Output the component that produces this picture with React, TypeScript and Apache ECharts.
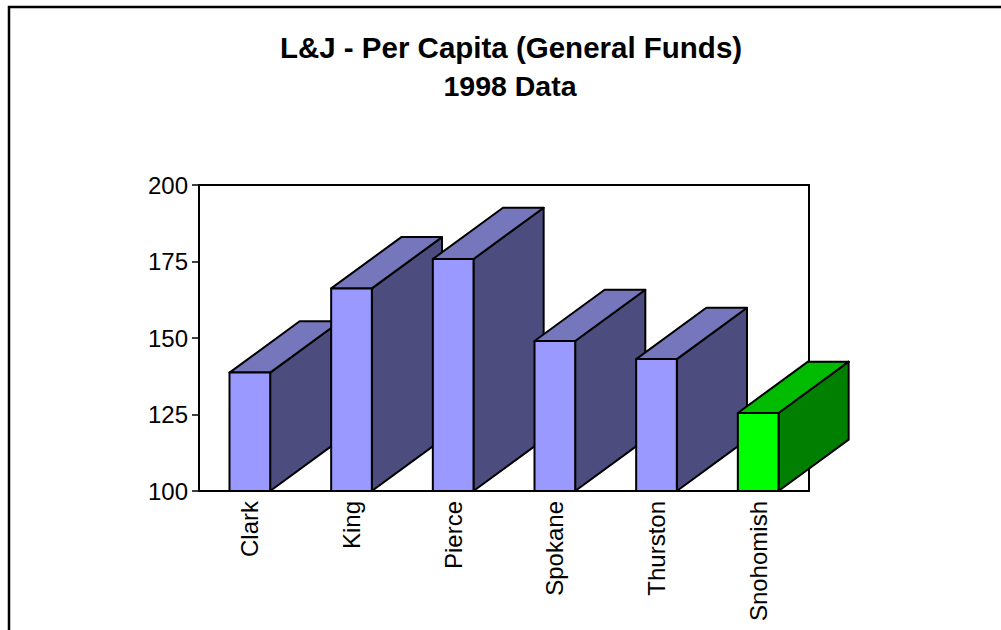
import React, { useEffect, useRef } from "react";
import * as echarts from "echarts";

const titleLine1 = "L&J - Per Capita (General Funds)";
const titleLine2 = "1998 Data";
const categories = ["Clark", "King", "Pierce", "Spokane", "Thurston", "Snohomish"];
const values = [138.7, 166.2, 175.8, 149.0, 143.1, 125.5];
const highlighted = "Snohomish";
const yMin = 100;
const yMax = 200;
const yStep = 25;

const FONT = '"Liberation Sans", Arial, Helvetica, sans-serif';

const blueFaces = { front: "#9999FF", top: "#7676BC", side: "#4C4C7E" };
const greenFaces = { front: "#00FF00", top: "#00BB00", side: "#007F00" };

export default function App() {
  const ref = useRef<HTMLDivElement>(null);

  useEffect(() => {
    if (!ref.current) return;
    const chart = echarts.init(ref.current, null, { renderer: "svg" });

    const renderItem = (params: any, api: any) => {
      const idx = api.value(0);
      const val = api.value(1);
      const top = api.coord([idx, val]);
      const base = api.coord([idx, yMin]);
      const band = api.size([1, 0])[0];
      const w = band * 0.4;
      const dx = band * 0.69;
      const dy = band * 0.505;
      const x1 = top[0] - w / 2;
      const x2 = top[0] + w / 2;
      const yT = top[1];
      const yB = base[1];
      const faces = categories[params.dataIndex] === highlighted ? greenFaces : blueFaces;
      const stroke = { stroke: "#000", lineWidth: 2, lineJoin: "round" };
      return {
        type: "group",
        children: [
          {
            type: "polygon",
            shape: { points: [[x2, yT], [x2 + dx, yT - dy], [x2 + dx, yB - dy], [x2, yB]] },
            style: { fill: faces.side, ...stroke },
          },
          {
            type: "polygon",
            shape: { points: [[x1, yT], [x2, yT], [x2 + dx, yT - dy], [x1 + dx, yT - dy]] },
            style: { fill: faces.top, ...stroke },
          },
          {
            type: "rect",
            shape: { x: x1, y: yT, width: w, height: yB - yT },
            style: { fill: faces.front, ...stroke },
          },
        ],
      };
    };

    chart.setOption({
      animation: false,
      backgroundColor: "#ffffff",
      graphic: [
        {
          type: "rect",
          silent: true,
          z: -10,
          shape: { x: 9, y: 7, width: 1300, height: 900 },
          style: { fill: "none", stroke: "#000", lineWidth: 2.5 },
        },
        {
          type: "text",
          x: 511,
          y: 47,
          style: {
            text: titleLine1,
            textAlign: "center",
            textVerticalAlign: "middle",
            fontSize: 29.5,
            fontWeight: "bold",
            fontFamily: FONT,
            fill: "#000",
          },
        },
        {
          type: "text",
          x: 510,
          y: 86,
          style: {
            text: titleLine2,
            textAlign: "center",
            textVerticalAlign: "middle",
            fontSize: 28.5,
            fontWeight: "bold",
            fontFamily: FONT,
            fill: "#000",
          },
        },
      ],
      grid: {
        left: 199,
        top: 185,
        width: 610,
        height: 306,
        show: true,
        borderColor: "#000",
        borderWidth: 2,
        backgroundColor: "transparent",
      },
      xAxis: {
        type: "category",
        data: categories,
        axisLine: { show: true, lineStyle: { color: "#000", width: 2 } },
        axisTick: { show: false },
        splitLine: { show: false },
        axisLabel: {
          show: true,
          rotate: 90,
          margin: 10,
          fontSize: 24,
          fontFamily: FONT,
          color: "#000",
          interval: 0,
        },
      },
      yAxis: {
        type: "value",
        min: yMin,
        max: yMax,
        interval: yStep,
        axisLine: { show: true, lineStyle: { color: "#000", width: 2 } },
        axisTick: { show: true, length: 7, inside: false, lineStyle: { color: "#000", width: 1.5 } },
        axisLabel: { margin: 11, fontSize: 24, fontFamily: FONT, color: "#000" },
        splitLine: { show: false },
      },
      series: [
        {
          type: "custom",
          renderItem,
          clip: false,
          encode: { x: 0, y: 1 },
          data: values.map((v, i) => [i, v]),
          z: 5,
        },
      ],
    });

    return () => chart.dispose();
  }, []);

  return (
    <div
      ref={ref}
      style={{ position: "absolute", left: 0, top: 0, width: 1001, height: 630, background: "#fff" }}
    />
  );
}
